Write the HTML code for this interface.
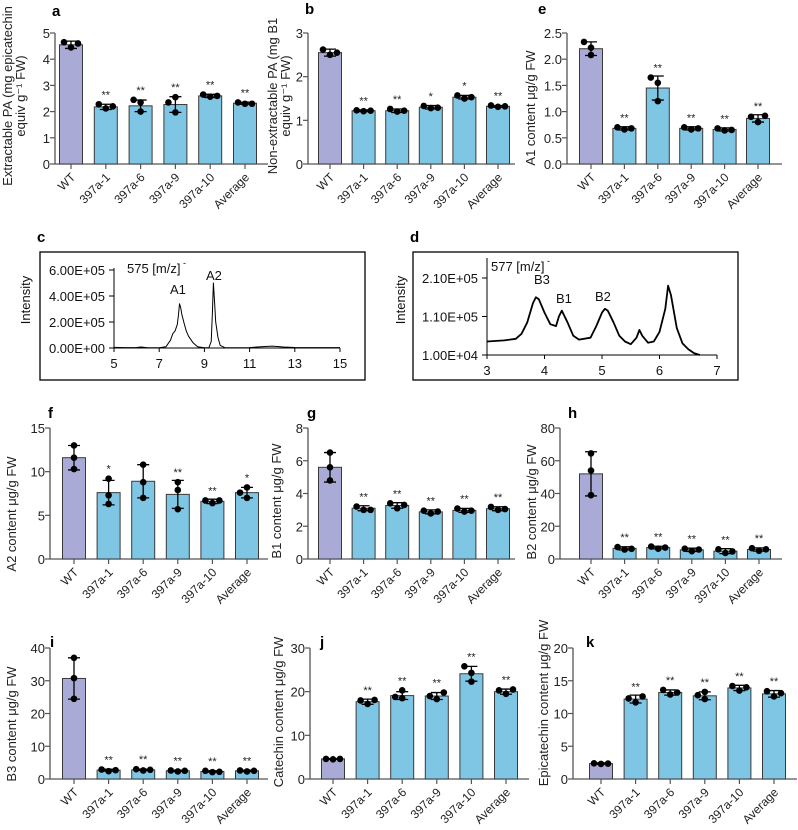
<!DOCTYPE html>
<html><head><meta charset="utf-8"><style>
html,body{margin:0;padding:0;background:#fff;}
svg{display:block;font-family:"Liberation Sans",Arial,sans-serif;}
</style></head><body>
<svg id="fig" width="798" height="830" viewBox="0 0 798 830" xmlns="http://www.w3.org/2000/svg"></svg>
<script>
const cats=["WT","397a-1","397a-6","397a-9","397a-10","Average"];
// panel a
const aMeans=[4.55,2.18,2.22,2.27,2.6,2.32];
const aSd=[0.14,0.1,0.22,0.3,0.06,0.04];
const aPts=[[4.45,4.65,4.6],[2.12,2.28,2.2],[2.0,2.35,2.45],[1.97,2.55,2.35],[2.57,2.65,2.6],[2.3,2.35,2.3]];
const aSig=["","**","**","**","**","**"];
// panel b
const bMeans=[2.55,1.22,1.22,1.3,1.53,1.32];
const bSd=[0.08,0.02,0.04,0.04,0.04,0.02];
const bPts=[[2.5,2.62,2.55],[1.21,1.23,1.22],[1.2,1.26,1.22],[1.28,1.33,1.29],[1.5,1.57,1.53],[1.31,1.34,1.32]];
const bSig=["","**","**","*","*","**"];
// panel e
const eMeans=[2.2,0.68,1.45,0.68,0.66,0.87];
const eSd=[0.13,0.03,0.23,0.03,0.03,0.07];
const ePts=[[2.08,2.22,2.33],[0.66,0.7,0.68],[1.2,1.55,1.65],[0.66,0.7,0.68],[0.64,0.68,0.65],[0.8,0.9,0.92]];
const eSig=["","**","**","**","**","**"];
// panel f
const fMeans=[11.6,7.6,8.9,7.4,6.6,7.6];
const fSd=[1.4,1.4,1.9,1.6,0.25,0.6];
const fPts=[[10.3,11.6,13.0],[6.3,7.3,9.2],[7.0,8.8,10.8],[5.7,7.9,8.8],[6.4,6.7,6.7],[7.0,7.6,8.2]];
const fSig=["","*","","**","**","*"];
// panel g
const gMeans=[5.6,3.1,3.27,2.88,2.97,3.07];
const gSd=[0.9,0.15,0.17,0.12,0.12,0.12];
const gPts=[[4.8,5.6,6.5],[3.0,3.2,3.0],[3.1,3.4,3.3],[2.78,2.95,2.9],[2.9,3.08,2.95],[3.0,3.18,3.05]];
const gSig=["","**","**","**","**","**"];
// panel h
const hMeans=[52,6.5,7,5.6,4.8,5.8];
const hSd=[13.5,1,0.8,1,1.5,1];
const hPts=[[39,54,64.5],[5.8,7.3,6.2],[6.3,7.6,7.0],[4.8,6.3,5.8],[3.7,5.9,4.6],[5.0,6.6,5.9]];
const hSig=["","**","**","**","**","**"];
// panel i
const iMeans=[30.7,2.7,2.8,2.5,2.3,2.5];
const iSd=[6.3,0.3,0.2,0.2,0.2,0.2];
const iPts=[[24.5,30.8,37],[2.4,2.9,2.7],[2.6,3.0,2.8],[2.3,2.6,2.5],[2.1,2.5,2.2],[2.3,2.6,2.5]];
const iSig=["","**","**","**","**","**"];
// panel j
const jMeans=[4.6,17.7,19.1,19.0,24.1,20.0];
const jSd=[0.1,0.6,0.9,0.8,1.7,0.6];
const jPts=[[4.5,4.6,4.6],[17.2,18.0,18.1],[18.5,18.8,20.3],[18.3,19.0,19.8],[22.3,24.3,25.8],[19.5,20.3,20.5]];
const jSig=["","**","**","**","**","**"];
// panel k
const kMeans=[2.35,12.2,13.2,12.7,13.9,13.0];
const kSd=[0.1,0.6,0.4,0.6,0.4,0.5];
const kPts=[[2.3,2.4,2.35],[11.7,12.3,12.6],[12.9,13.6,13.2],[12.2,12.8,13.3],[13.5,14.2,14.0],[12.6,13.4,13.1]];
const kSig=["","**","**","**","**","**"];
// chromatogram c (x = min, y = intensity / 1e5)
const cTime=[5,5.5,6,6.2,6.5,7,7.3,7.5,7.6,7.7,7.8,7.85,7.9,7.95,8.0,8.1,8.2,8.3,8.5,8.7,9.0,9.2,9.3,9.35,9.4,9.45,9.5,9.6,9.7,9.9,10.5,11,11.5,12,12.5,13,14,15];
const cInt=[0.05,0.03,0.04,0.08,0.02,0.02,0.1,0.6,1.1,1.3,1.8,2.5,3.4,3.1,2.6,1.9,1.3,0.9,0.4,0.1,0.02,0.02,0.5,2.5,5.0,3.5,2.0,0.8,0.2,0.03,0.02,0.03,0.1,0.15,0.08,0.04,0.03,0.03];
const cYTicks=["0.00E+00","2.00E+05","4.00E+05","6.00E+05"];
const cXTicks=[5,7,9,11,13,15];
// chromatogram d
const dTime=[3,3.3,3.5,3.6,3.7,3.8,3.85,3.9,4.0,4.1,4.2,4.25,4.3,4.4,4.5,4.6,4.8,4.9,5.0,5.05,5.1,5.2,5.3,5.4,5.5,5.6,5.65,5.7,5.8,5.9,6.0,6.1,6.15,6.2,6.3,6.4,6.5,6.6,6.7];
const dInt=[0.45,0.48,0.52,0.65,0.95,1.45,1.6,1.55,1.2,0.9,0.85,1.1,1.25,0.95,0.6,0.5,0.55,0.85,1.2,1.3,1.25,0.95,0.6,0.45,0.38,0.55,0.75,0.6,0.42,0.45,0.7,1.3,1.9,1.65,0.8,0.4,0.25,0.15,0.1];
const dYTicks=[["1.00E+04",0.1],["1.10E+05",1.1],["2.10E+05",2.1]];
const dXTicks=[3,4,5,6,7];

const svg=document.getElementById('fig');
const NS="http://www.w3.org/2000/svg";
function mk(tag,attrs,parent){const e=document.createElementNS(NS,tag);for(const k in attrs)e.setAttribute(k,attrs[k]);(parent||svg).appendChild(e);return e;}
function txt(s,attrs,parent){const e=mk('text',attrs,parent);e.textContent=s;return e;}

function barPanel(p){
  const g=mk('g',{});
  
  
  const y=v=>p.y0-(v/p.max)*(p.y0-p.y1);
  const x=i=>p.x0+i*p.step;
  const lab=txt(p.id,{x:p.lx,y:p.ly,'font-size':15,'font-weight':'bold',fill:'#000'},g);
  
  
  const ya=mk('line',{x1:p.ax,y1:p.y1,x2:p.ax,y2:p.y0,stroke:'#555','stroke-width':1.3},g);
  
  
  const xa=mk('line',{x1:p.ax,y1:p.y0,x2:p.xend,y2:p.y0,stroke:'#555','stroke-width':1.3},g);
  
  
  p.ticks.forEach(t=>{
    mk('line',{x1:p.ax-5,y1:y(t),x2:p.ax,y2:y(t),stroke:'#555','stroke-width':1.2},g);
    const tl=txt(p.fmt?t.toFixed(1):String(t),{x:p.ax-5,y:y(t)+5,'font-size':13,'text-anchor':'end',fill:'#222'},g);
    
    
  });
  p.title.forEach((line,k)=>{
    const tx=p.tx+k*13;
    const t=txt(line,{x:tx,y:p.ty,'font-size':13,'text-anchor':'middle',fill:'#222',transform:`rotate(-90 ${tx} ${p.ty})`},g);
    
    
  });
  cats.forEach((c,i)=>{
    const cx=x(i), m=p.means[i], sd=p.sd[i];
    const r=mk('rect',{x:cx-11.5,y:y(m),width:23,height:p.y0-y(m),fill:i==0?'#aaaad6':'#7ec6e4',stroke:'#3a3a3a','stroke-width':1},g);
    
    
    mk('line',{x1:cx,y1:p.y0,x2:cx,y2:p.y0+5,stroke:'#555','stroke-width':1.2},g);
    const eb=mk('path',{d:`M${cx},${y(m-sd)}V${y(m+sd)}M${cx-6},${y(m+sd)}H${cx+6}M${cx-6},${y(m-sd)}H${cx+6}`,stroke:'#000','stroke-width':1.3,fill:'none'},g);
    
    
    const placed=[];
    p.pts[i].forEach(v=>{
      const py=y(v);
      let px=cx;
      for(const off of [0,-7,7,-14,14]){
        const tx=cx+off;
        if(placed.every(q=>Math.hypot(q[0]-tx,q[1]-py)>=6.8)){px=tx;break;}
      }
      placed.push([px,py]);
      const d=mk('circle',{cx:px,cy:py,r:3.3,fill:'#000'},g);
      
      
    });
    if(p.sig[i]){
      const top=Math.min(y(m+sd),...placed.map(q=>q[1]-3));
      const s=txt(p.sig[i],{x:cx,y:top-3,'font-size':11,'text-anchor':'middle',fill:'#222'},g);
      
      
    }
    const lx=cx+5, ly=p.y0+14;
    const cl=txt(c,{x:lx,y:ly,'font-size':12,'text-anchor':'end',fill:'#222',transform:`rotate(-45 ${lx} ${ly})`},g);
    
    
  });
}

const row1={y0:164,y1:33};const row2={y0:559,y1:428};const row3={y0:779,y1:648};
barPanel({id:'a',lx:52,ly:16,ax:55,x0:71,step:34.8,xend:268,...row1,max:5,ticks:[0,1,2,3,4,5],means:aMeans,sd:aSd,pts:aPts,sig:aSig,title:["Extractable PA  (mg epicatechin","equiv g\u207B\u00B9 FW)"],tx:12,ty:96});
barPanel({id:'b',lx:305,ly:14,ax:308,x0:330,step:33.6,xend:515,...row1,max:3,ticks:[0,1,2,3],means:bMeans,sd:bSd,pts:bPts,sig:bSig,title:["Non-extractable PA (mg B1","equiv g\u207B\u00B9 FW)"],tx:277,ty:96});
barPanel({id:'e',lx:538,ly:14,ax:567,x0:591,step:33.4,xend:782,...row1,max:2.5,fmt:true,ticks:[0,0.5,1,1.5,2,2.5],means:eMeans,sd:eSd,pts:ePts,sig:eSig,title:["A1 content \u03BCg/g FW"],tx:535,ty:108});
barPanel({id:'f',lx:48,ly:418,ax:50,x0:74,step:34.6,xend:268,...row2,max:15,ticks:[0,5,10,15],means:fMeans,sd:fSd,pts:fPts,sig:fSig,title:["A2 content \u03BCg/g FW"],tx:16,ty:514});
barPanel({id:'g',lx:307,ly:418,ax:308,x0:330,step:33.6,xend:515,...row2,max:8,ticks:[0,2,4,6,8],means:gMeans,sd:gSd,pts:gPts,sig:gSig,title:["B1 content \u03BCg/g FW"],tx:281,ty:501});
barPanel({id:'h',lx:568,ly:418,ax:560,x0:591,step:33.6,xend:782,...row2,max:80,ticks:[0,20,40,60,80],means:hMeans,sd:hSd,pts:hPts,sig:hSig,title:["B2 content \u03BCg/g FW"],tx:536,ty:502});
barPanel({id:'i',lx:50,ly:647,ax:50,x0:74,step:34.6,xend:268,...row3,max:40,ticks:[0,10,20,30,40],means:iMeans,sd:iSd,pts:iPts,sig:iSig,title:["B3 content \u03BCg/g FW"],tx:16,ty:724});
barPanel({id:'j',lx:320,ly:647,ax:310,x0:333,step:34.6,xend:529,...row3,max:30,ticks:[0,10,20,30],means:jMeans,sd:jSd,pts:jPts,sig:jSig,title:["Catechin content \u03BCg/g FW"],tx:283,ty:712});
barPanel({id:'k',lx:586,ly:647,ax:573,x0:601,step:34.6,xend:797,...row3,max:20,ticks:[0,5,10,15,20],means:kMeans,sd:kSd,pts:kPts,sig:kSig,title:["Epicatechin content  \u03BCg/g FW"],tx:548,ty:703});

function chrom(p){
  const g=mk('g',{});
  
  
  const lab=txt(p.id,{x:p.lx,y:p.ly,'font-size':15,'font-weight':'bold'},g);
  
  
  const box=mk('rect',{x:p.bx,y:p.by,width:p.bw,height:p.bh,fill:'none',stroke:'#000','stroke-width':1.3},g);
  
  
  const X=v=>p.px0+(v-p.xmin)/(p.xmax-p.xmin)*(p.px1-p.px0);
  const Y=v=>p.py0-(v-p.ymin)/(p.ymax-p.ymin)*(p.py0-p.py1);
  mk('line',{x1:p.px0,y1:p.ytop,x2:p.px0,y2:p.py0,stroke:'#000','stroke-width':1},g);
  mk('line',{x1:p.px0,y1:p.py0,x2:p.px1,y2:p.py0,stroke:'#000','stroke-width':1},g);
  p.yt.forEach(([s,v])=>{
    mk('line',{x1:p.px0-5,y1:Y(v),x2:p.px0,y2:Y(v),stroke:'#000'},g);
    const t=txt(s,{x:p.px0-9,y:Y(v)+5,'font-size':13,'text-anchor':'end',fill:'#111'},g);
    
    
  });
  p.xt.forEach(v=>{
    mk('line',{x1:X(v),y1:p.py0,x2:X(v),y2:p.py0+4,stroke:'#000'},g);
    const t=txt(String(v),{x:X(v),y:p.py0+20,'font-size':13,'text-anchor':'middle',fill:'#111'},g);
    
    
  });
  const d=p.t.map((t,i)=>(i?'L':'M')+X(t).toFixed(1)+','+Y(p.v[i]).toFixed(1)).join('');
  const ln=mk('path',{d:d,fill:'none',stroke:'#000','stroke-width':p.sw,'stroke-linejoin':'round'},g);
  
  
  const it=txt('Intensity',{x:p.ix,y:p.iy,'font-size':13,'text-anchor':'middle',fill:'#111',transform:`rotate(-90 ${p.ix} ${p.iy})`},g);
  
  
  p.ann.forEach(([s,x,y])=>{
    const a=txt(s,{x:x,y:y,'font-size':13,fill:'#111'},g);
    
    
  });
  return g;
}
const cg=chrom({id:'c',lx:37,ly:242,bx:40,by:252,bw:325,bh:128,px0:114,px1:340,py0:348,py1:270,ytop:268,xmin:5,xmax:15,ymin:0,ymax:6,
  yt:cYTicks.map((s,i)=>[s,i*2]),xt:cXTicks,t:cTime,v:cInt,sw:1,ix:30,iy:300,ann:[["A1",170,294],["A2",206,280]]});
const ms1=txt('575 [m/z]',{x:127,y:273,'font-size':13,fill:'#111'},cg);


txt('-',{x:183,y:266,'font-size':9},cg);
const dg=chrom({id:'d',lx:410,ly:242,bx:413,by:252,bw:325,bh:128,px0:487,px1:717,py0:355,py1:278,ytop:258,xmin:3,xmax:7,ymin:0.1,ymax:2.1,
  yt:dYTicks,xt:dXTicks,t:dTime,v:dInt,sw:1.8,ix:405,iy:300,ann:[["B3",534,284],["B1",556,303],["B2",595,301]]});
const ms2=txt('577 [m/z]',{x:491,y:271,'font-size':13,fill:'#111'},dg);


txt('-',{x:547,y:264,'font-size':9},dg);
</script>
</body></html>
